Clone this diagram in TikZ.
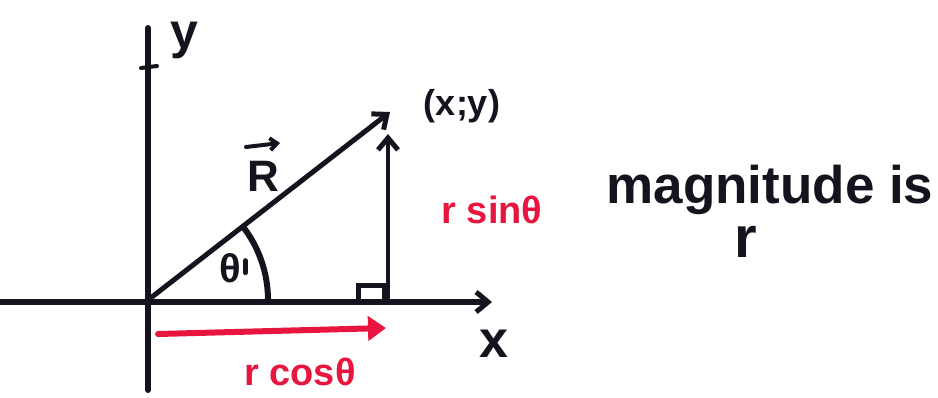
\documentclass[tikz,border=0pt]{standalone}
\usepackage{fontspec}
\setmainfont{Liberation Sans}
\usetikzlibrary{arrows.meta}
\definecolor{pen}{RGB}{20,20,30}
\definecolor{redpen}{RGB}{232,22,62}
\begin{document}
\begin{tikzpicture}[x=1pt,y=-1pt,
  ink/.style={draw=pen,line width=5pt,line cap=round},
  redink/.style={draw=redpen,line width=6pt,line cap=round},
  blacktext/.style={text=pen,font=\bfseries,inner sep=0pt},
  redtext/.style={text=redpen,font=\bfseries,inner sep=0pt},
  tip/.style={-{Straight Barb[length=12pt,width=20pt,line width=5pt]}},
  smalltip/.style={-{Straight Barb[length=7pt,width=12pt,line width=4pt]}},
  redtip/.style={-{Triangle[length=18pt,width=24pt]}}]
\useasboundingbox[fill=white] (0,0) rectangle (938,397);
% named points
\coordinate (O) at (148,300);
\coordinate (ytop) at (148,28);
\coordinate (ybot) at (148,390);
\coordinate (xleft) at (0,302);
\coordinate (xright) at (492,302);
\coordinate (P) at (390,112);
\coordinate (foot) at (388,302);
\coordinate (vtop) at (388,134);
\coordinate (ca) at (158,334);
\coordinate (cb) at (386,328);
\coordinate (Ra) at (246,147);
\coordinate (Rb) at (280,143);
% axes
\draw[ink,line width=6pt] (ybot) -- (ytop);
\draw[ink,line width=4pt] (141,68) -- (157,66);
\draw[ink,line width=6pt,tip] (xleft) -- (xright);
% R vector
\draw[ink,tip] (O) -- (P);
% vertical component
\draw[ink,line width=4pt,tip] (foot) -- (vtop);
% right angle mark
\draw[ink,line width=5pt] (358,300) -- (358,285) -- (384,285) -- (384,300);
% angle arc
\draw[ink,line width=6pt] (O) ++(-37:120) arc[start angle=-37,end angle=0,radius=120];
\draw[ink,line width=5pt] (O) ++(-22:105) -- ++(0,12);
% red horizontal component
\draw[redink,redtip] (ca) -- (cb);
% labels
\node[blacktext,font=\bfseries\fontsize{50}{50}\selectfont] (ylab) at (184,40) {y};
\node[blacktext,font=\bfseries\fontsize{52}{52}\selectfont] (xlab) at (494,344) {x};
\node[blacktext,font=\bfseries\fontsize{44}{44}\selectfont] (Rlab) at (263,176) {R};
\draw[ink,line width=4pt,smalltip] (Ra) -- (Rb);
\node[blacktext,font=\bfseries\fontsize{36}{36}\selectfont] (Plab) at (462,106) {(x;y)};
\node[blacktext,font=\bfseries\fontsize{40}{40}\selectfont] (th) at (230,268) {θ};
\node[redtext,font=\bfseries\fontsize{38}{38}\selectfont] (rsin) at (492,210) {r sinθ};
\node[redtext,font=\bfseries\fontsize{38}{38}\selectfont] (rcos) at (300,372) {r cosθ};
\node[blacktext,font=\bfseries\fontsize{53}{53}\selectfont] (mag) at (770,190) {magnitude is};
\node[blacktext,font=\bfseries\fontsize{58}{58}\selectfont] (rmag) at (746,242) {r};
\end{tikzpicture}
\end{document}
